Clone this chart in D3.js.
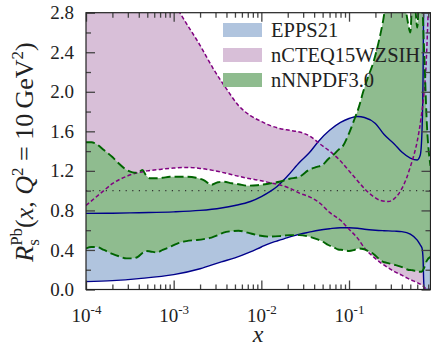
<!DOCTYPE html>
<html>
<head>
<meta charset="utf-8">
<script src="https://cdn.jsdelivr.net/npm/d3@7"></script>
<style>
  html, body { margin: 0; padding: 0; background: #fff; }
  svg { display: block; font-family: "Liberation Serif", "Times New Roman", serif; }
</style>
</head>
<body>
<svg id="chart" width="431" height="346"></svg>
<script>
// ---- data ----------------------------------------------------------------
const seriesNames = ["EPPS21", "nCTEQ15WZSIH", "nNNPDF3.0"];

const xMajorTicks = [1e-4, 1e-3, 1e-2, 1e-1];
const xTickLabels = ["-4", "-3", "-2", "-1"];
const yMajorTicks = [0, 0.4, 0.8, 1.2, 1.6, 2.0, 2.4, 2.8];
const yMinorTicks = [0.2, 0.6, 1.0, 1.4, 1.8, 2.2, 2.6];

// EPPS21 uncertainty band
const eppsX  = [1e-4, 2e-4, 4e-4, 1e-3, 2e-3, 3.5e-3, 5e-3, 7.5e-3, 0.01, 0.0125, 0.015, 0.02, 0.0275, 0.035, 0.045, 0.06, 0.08, 0.1, 0.125, 0.15, 0.2, 0.25, 0.33, 0.4, 0.5, 0.6, 0.65, 0.68, 0.7, 0.71, 0.72, 0.85];
const eppsHi = [0.77, 0.772, 0.777, 0.785, 0.80, 0.825, 0.85, 0.89, 0.94, 0.99, 1.04, 1.15, 1.29, 1.38, 1.50, 1.61, 1.69, 1.73, 1.75, 1.74, 1.68, 1.57, 1.47, 1.39, 1.33, 1.31, 1.36, 1.6, 2.2, 2.9, 3.2, 3.2];
const eppsLo = [0.08, 0.09, 0.11, 0.15, 0.21, 0.28, 0.32, 0.38, 0.43, 0.467, 0.49, 0.525, 0.56, 0.58, 0.60, 0.615, 0.625, 0.625, 0.62, 0.61, 0.60, 0.595, 0.59, 0.585, 0.56, 0.50, 0.45, 0.42, 0.30, 0.10, 0, 0];

// nCTEQ15WZSIH uncertainty band
const ncteqX  = [1e-4, 1.5e-4, 2e-4, 3e-4, 5e-4, 7e-4, 1e-3, 1.4e-3, 2e-3, 2.8e-3, 4e-3, 5.5e-3, 7.5e-3, 0.01, 0.0125, 0.016, 0.021, 0.028, 0.036, 0.047, 0.06, 0.08, 0.1, 0.125, 0.15, 0.19, 0.23, 0.28, 0.33, 0.4, 0.45, 0.5, 0.55, 0.6, 0.66, 0.7, 0.75, 0.8, 0.85];
const ncteqHi = [5.0, 4.5, 4.1, 3.6, 3.3, 3.1, 2.9, 2.69, 2.47, 2.24, 2.03, 1.86, 1.76, 1.70, 1.66, 1.63, 1.61, 1.59, 1.55, 1.47, 1.40, 1.30, 1.20, 1.10, 1.02, 0.94, 0.90, 0.89, 0.92, 1.02, 1.12, 1.24, 1.36, 1.50, 1.72, 1.90, 2.2, 2.8, 3.4];
const ncteqLo = [0.85, 0.98, 1.07, 1.15, 1.20, 1.215, 1.228, 1.235, 1.225, 1.205, 1.175, 1.145, 1.12, 1.10, 1.08, 1.06, 1.025, 0.97, 0.935, 0.87, 0.78, 0.70, 0.61, 0.52, 0.42, 0.33, 0.27, 0.22, 0.18, 0.145, 0.12, 0.10, 0.085, 0.07, 0.05, 0.035, 0.01, 0, 0];

// nNNPDF3.0 uncertainty band
const nnpdfX  = [1e-4, 1.15e-4, 1.32e-4, 1.6e-4, 2e-4, 2.4e-4, 2.9e-4, 3.4e-4, 3.9e-4, 4.4e-4, 4.8e-4, 5.4e-4, 6.4e-4, 7.5e-4, 9e-4, 1.1e-3, 1.4e-3, 1.8e-3, 2.2e-3, 2.7e-3, 3.2e-3, 3.7e-3, 4.6e-3, 5.5e-3, 7e-3, 9e-3, 0.012, 0.016, 0.021, 0.027, 0.035, 0.043, 0.05, 0.058, 0.066, 0.075, 0.085, 0.1, 0.115, 0.13, 0.145, 0.165, 0.19, 0.22, 0.245, 0.27, 0.33, 0.42, 0.47, 0.5, 0.53, 0.57, 0.6, 0.63, 0.67, 0.72, 0.77, 0.85];
const nnpdfHi = [1.49, 1.49, 1.47, 1.41, 1.34, 1.27, 1.21, 1.185, 1.18, 1.21, 1.16, 1.125, 1.125, 1.13, 1.14, 1.14, 1.14, 1.13, 1.107, 1.06, 1.085, 1.09, 1.075, 1.065, 1.05, 1.055, 1.07, 1.09, 1.12, 1.14, 1.21, 1.24, 1.26, 1.32, 1.36, 1.41, 1.45, 1.58, 1.72, 1.85, 2.0, 2.15, 2.3, 2.52, 2.72, 2.95, 3.1, 2.95, 2.7, 2.6, 2.95, 2.85, 2.65, 2.95, 3.0, 2.4, 1.7, 1.25];
const nnpdfLo = [0.415, 0.43, 0.43, 0.40, 0.36, 0.335, 0.315, 0.315, 0.33, 0.37, 0.39, 0.385, 0.375, 0.40, 0.43, 0.465, 0.49, 0.50, 0.51, 0.525, 0.55, 0.575, 0.59, 0.595, 0.575, 0.55, 0.535, 0.54, 0.55, 0.55, 0.535, 0.51, 0.485, 0.45, 0.43, 0.405, 0.40, 0.39, 0.40, 0.415, 0.41, 0.39, 0.36, 0.31, 0.28, 0.27, 0.25, 0.22, 0.20, 0.197, 0.195, 0.19, 0.19, 0.18, 0.18, 0.22, 0.29, 0.33];

// ---- layout --------------------------------------------------------------
const plotLeft = 86, plotRight = 430.5, plotTop = 12.7, plotBottom = 289.5;

const svg = d3.select("#chart");
const x = d3.scaleLog().domain([1e-4, 0.85]).range([plotLeft, plotRight]);
const y = d3.scaleLinear().domain([0, 2.8]).range([plotBottom, plotTop]);

const pack = (xs, lo, hi) => xs.map((v, i) => ({ x: v, lo: lo[i], hi: hi[i] }));
const bands = [
  { name: seriesNames[1], data: pack(ncteqX, ncteqLo, ncteqHi), fill: "#d8bfd8", stroke: "#800080", dash: "4,2.4", width: 1.5 },
  { name: seriesNames[0], data: pack(eppsX, eppsLo, eppsHi),    fill: "#b0c4de", stroke: "#00008b", dash: null,    width: 1.4 },
  { name: seriesNames[2], data: pack(nnpdfX, nnpdfLo, nnpdfHi), fill: "#8fbc8f", stroke: "#006400", dash: "9,4",   width: 1.9 }
];

svg.append("defs").append("clipPath").attr("id", "plot-clip")
  .append("rect").attr("x", plotLeft).attr("y", plotTop)
  .attr("width", plotRight - plotLeft).attr("height", plotBottom - plotTop);

const plot = svg.append("g").attr("clip-path", "url(#plot-clip)");

const area = d3.area().curve(d3.curveMonotoneX)
  .x(d => x(d.x)).y0(d => y(d.lo)).y1(d => y(d.hi));
const lineLo = d3.line().curve(d3.curveMonotoneX).x(d => x(d.x)).y(d => y(d.lo));
const lineHi = d3.line().curve(d3.curveMonotoneX).x(d => x(d.x)).y(d => y(d.hi));

// filled bands
bands.forEach(b => {
  plot.append("path").datum(b.data).attr("d", area).attr("fill", b.fill);
});

// reference line at R = 1
plot.append("line")
  .attr("x1", plotLeft).attr("x2", plotRight)
  .attr("y1", y(1)).attr("y2", y(1))
  .attr("stroke", "#333").attr("stroke-width", 1.2)
  .attr("stroke-dasharray", "1.2,5.4");

// band edges
[bands[1], bands[0], bands[2]].forEach(b => {
  [lineLo, lineHi].forEach(gen => {
    plot.append("path").datum(b.data).attr("d", gen)
      .attr("fill", "none").attr("stroke", b.stroke)
      .attr("stroke-width", b.width)
      .attr("stroke-dasharray", b.dash);
  });
});

// ---- axes ----------------------------------------------------------------
const xMinorTicks = [];
for (let e = -4; e <= -1; e++) {
  for (let k = 2; k <= 9; k++) {
    const v = k * Math.pow(10, e);
    if (v <= 0.85) xMinorTicks.push(v);
  }
}

function styleAxis(g) {
  g.select(".domain").remove();
  g.selectAll(".tick line").attr("stroke", "#444").attr("stroke-width", 1.3);
}

const majorLen = 9, minorLen = 5;

svg.append("g").attr("transform", `translate(0,${plotBottom})`)
  .call(d3.axisBottom(x).tickValues(xMajorTicks).tickSize(-majorLen).tickFormat(""))
  .call(styleAxis);
svg.append("g").attr("transform", `translate(0,${plotBottom})`)
  .call(d3.axisBottom(x).tickValues(xMinorTicks).tickSize(-minorLen).tickFormat(""))
  .call(styleAxis);
svg.append("g").attr("transform", `translate(0,${plotTop})`)
  .call(d3.axisTop(x).tickValues(xMajorTicks).tickSize(-majorLen).tickFormat(""))
  .call(styleAxis);
svg.append("g").attr("transform", `translate(0,${plotTop})`)
  .call(d3.axisTop(x).tickValues(xMinorTicks).tickSize(-minorLen).tickFormat(""))
  .call(styleAxis);

svg.append("g").attr("transform", `translate(${plotLeft},0)`)
  .call(d3.axisLeft(y).tickValues(yMajorTicks).tickSize(-majorLen).tickFormat(""))
  .call(styleAxis);
svg.append("g").attr("transform", `translate(${plotLeft},0)`)
  .call(d3.axisLeft(y).tickValues(yMinorTicks).tickSize(-minorLen).tickFormat(""))
  .call(styleAxis);
svg.append("g").attr("transform", `translate(${plotRight},0)`)
  .call(d3.axisRight(y).tickValues(yMajorTicks).tickSize(-majorLen).tickFormat(""))
  .call(styleAxis);
svg.append("g").attr("transform", `translate(${plotRight},0)`)
  .call(d3.axisRight(y).tickValues(yMinorTicks).tickSize(-minorLen).tickFormat(""))
  .call(styleAxis);

// y tick labels
const yLab = svg.append("g").attr("transform", `translate(${plotLeft},0)`)
  .call(d3.axisLeft(y).tickValues(yMajorTicks).tickSize(0).tickPadding(12).tickFormat(d3.format(".1f")));
yLab.select(".domain").remove();
yLab.selectAll("text").attr("font-size", 19).attr("fill", "#222")
  .attr("font-family", "Liberation Serif, serif");

// x tick labels: 10 with a superscript exponent
const xLab = svg.append("g").attr("transform", `translate(0,${plotBottom})`)
  .call(d3.axisBottom(x).tickValues(xMajorTicks).tickSize(0).tickFormat(""));
xLab.select(".domain").remove();
xLab.selectAll(".tick text").each(function (d, i) {
  const t = d3.select(this).attr("y", 32).attr("dy", null)
    .attr("font-size", 19).attr("fill", "#222")
    .attr("font-family", "Liberation Serif, serif");
  t.append("tspan").text("10");
  t.append("tspan").attr("font-size", 13).attr("dy", -8).text(xTickLabels[i]);
});

// frame
svg.append("rect")
  .attr("x", plotLeft).attr("y", plotTop)
  .attr("width", plotRight - plotLeft).attr("height", plotBottom - plotTop)
  .attr("fill", "none").attr("stroke", "#222").attr("stroke-width", 1.2);

// axis titles
svg.append("text")
  .attr("x", 258).attr("y", 342)
  .attr("text-anchor", "middle").attr("font-size", 24)
  .attr("font-style", "italic").attr("fill", "#222").text("x");

const yt = svg.append("text")
  .attr("transform", "translate(33,152) rotate(-90)")
  .attr("text-anchor", "middle").attr("font-size", 26).attr("fill", "#222");
yt.append("tspan").attr("font-style", "italic").text("R");
const sub = yt.append("tspan").attr("font-size", 17).attr("dy", 6).text("s");
const subLen = sub.node().getComputedTextLength();
yt.append("tspan").attr("font-size", 17).attr("dy", -17).attr("dx", -subLen).text("Pb");
yt.append("tspan").attr("dy", 11).text("(");
yt.append("tspan").attr("font-style", "italic").text("x");
yt.append("tspan").text(", ");
yt.append("tspan").attr("font-style", "italic").text("Q");
yt.append("tspan").attr("font-size", 17).attr("dy", -10).text("2");
yt.append("tspan").attr("dy", 10).text(" = 10\u2009GeV");
yt.append("tspan").attr("font-size", 17).attr("dy", -10).text("2");
yt.append("tspan").attr("dy", 10).text(")");

// legend
const legend = svg.append("g").attr("transform", "translate(223,23)");
const legendItems = [bands[1], bands[0], bands[2]];
legendItems.forEach((b, i) => {
  const g = legend.append("g").attr("transform", `translate(0,${i * 25})`);
  g.append("rect").attr("width", 39).attr("height", 14).attr("fill", b.fill);
  g.append("text").attr("x", 48).attr("y", 14).attr("font-size", 20.5)
    .attr("fill", "#222").text(b.name);
});
</script>
</body>
</html>
